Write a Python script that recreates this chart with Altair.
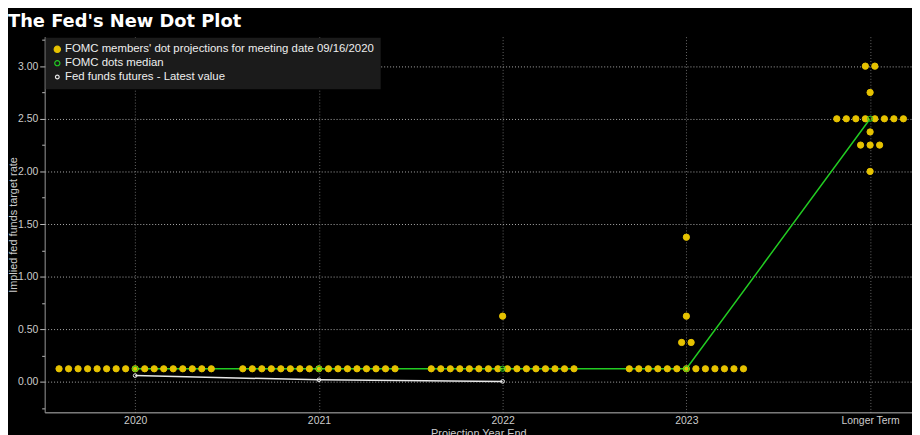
import json
import altair as alt
import pandas as pd

# ---- data ----
categories = ["2020", "2021", "2022", "2023", "Longer Term"]
series_names = [
    "FOMC members' dot projections for meeting date 09/16/2020",
    "FOMC dots median",
    "Fed funds futures - Latest value",
]
# (rate, number of participants) per projection year
dots_2020 = [(0.125, 17)]
dots_2021 = [(0.125, 17)]
dots_2022 = [(0.125, 16), (0.625, 1)]
dots_2023 = [(0.125, 13), (0.375, 2), (0.625, 1), (1.375, 1)]
dots_longer = [(2.0, 1), (2.25, 3), (2.375, 1), (2.5, 8), (2.75, 1), (3.0, 2)]
median_values = [0.125, 0.125, 0.125, 0.125, 2.5]
futures_values = [0.06, 0.02, 0.005]

dot_groups = [dots_2020, dots_2021, dots_2022, dots_2023, dots_longer]
SPREAD = 0.0518  # horizontal spacing of dots sharing a value (category units)

rows = []
for i, groups in enumerate(dot_groups):
    for rate, n in groups:
        for k in range(n):
            rows.append({"pos": i + (k - (n - 1) / 2) * SPREAD, "rate": rate,
                         "series": series_names[0]})
for i, v in enumerate(median_values):
    rows.append({"pos": i, "rate": v, "series": series_names[1]})
for i, v in enumerate(futures_values):
    rows.append({"pos": i, "rate": v, "series": series_names[2]})
points_df = pd.DataFrame(rows)
median_df = pd.DataFrame({"pos": list(range(len(median_values))), "rate": median_values})
futures_df = pd.DataFrame({"pos": list(range(len(futures_values))), "rate": futures_values})

YELLOW = "#e6c200"
GREEN = "#22cc22"
WHITE = "#e8e8e8"
FONT = "Liberation Sans"

x_enc = alt.X(
    "pos:Q",
    scale=alt.Scale(domain=[-0.4926, 4.228], nice=False, zero=False),
    axis=alt.Axis(
        values=list(range(len(categories))),
        labelExpr=json.dumps(categories) + "[datum.value]",
        title="Projection Year End",
        titleColor="#cccccc", titleFont=FONT, titleFontSize=11, titleFontWeight="normal",
        titlePadding=2,
        labelColor="#cccccc", labelFont=FONT, labelFontSize=10.5, labelPadding=3,
        ticks=False,
        domainColor="#bbbbbb", domainWidth=1,
        grid=True, gridColor="#666666", gridDash=[1, 2], gridWidth=1,
    ),
)
y_ticks = [v * 0.25 for v in range(-1, 14)]
major = "abs(datum.value % 0.5) < 0.001"
y_enc = alt.Y(
    "rate:Q",
    scale=alt.Scale(domain=[-0.289, 3.28], nice=False, zero=False),
    axis=alt.Axis(
        values=y_ticks,
        labelExpr="abs(datum.value % 0.5) < 0.001 ? format(datum.value, '.2f') : ''",
        title="Implied fed funds target rate",
        titleColor="#cccccc", titleFont=FONT, titleFontSize=11, titleFontWeight="normal",
        titleX=-31, titleBaseline="middle", titleAngle=270, titleAlign="center",
        labelColor="#cccccc", labelFont=FONT, labelFontSize=10.5, labelPadding=2,
        tickColor="#bbbbbb",
        tickSize={"condition": {"test": major, "value": 5}, "value": 3},
        domainColor="#999999", domainWidth=1,
        grid=True, gridColor="#aaaaaa", gridDash=[1, 2], gridWidth=1,
        gridOpacity={"condition": {"test": major, "value": 1}, "value": 0},
    ),
)

median_line = alt.Chart(median_df).mark_line(color=GREEN, strokeWidth=1.5).encode(x=x_enc, y=y_enc)
futures_line = alt.Chart(futures_df).mark_line(color=WHITE, strokeWidth=1.5).encode(x=x_enc, y=y_enc)

legend = alt.Legend(
    title=None, orient="none", legendX=1, legendY=1,
    fillColor="#1b1b1b", padding=6, rowPadding=1,
    labelColor="#eeeeee", labelFont=FONT, labelFontSize=11.5, labelOffset=2,
    symbolType="circle", symbolStrokeWidth=1.2, labelLimit=400,
)
points = alt.Chart(points_df).mark_point(shape="circle", opacity=1).encode(
    x=x_enc,
    y=y_enc,
    color=alt.Color("series:N", scale=alt.Scale(domain=series_names, range=[YELLOW, GREEN, WHITE]),
                    legend=legend),
    fill=alt.Fill("series:N", scale=alt.Scale(domain=series_names,
                                              range=[YELLOW, "transparent", "transparent"]),
                  legend=legend),
    size=alt.Size("series:N", scale=alt.Scale(domain=series_names, range=[40, 14, 10]),
                  legend=legend),
    strokeWidth=alt.value(1),
)

chart = alt.layer(median_line, futures_line, points).properties(
    width=875, height=379,
    autosize=alt.AutoSizeParams(type="none"),
    padding={"left": 37, "top": 27, "right": 0, "bottom": 30},
    background="#000000",
    title=alt.TitleParams(
        "The Fed's New Dot Plot", anchor="start", frame="group", dx=-37, offset=6,
        font="DejaVu Sans", fontSize=18, fontWeight="bold", color="#ffffff",
    ),
).configure_view(stroke=None)

chart.save("out.html", embed_options={"renderer": "svg", "actions": False})
